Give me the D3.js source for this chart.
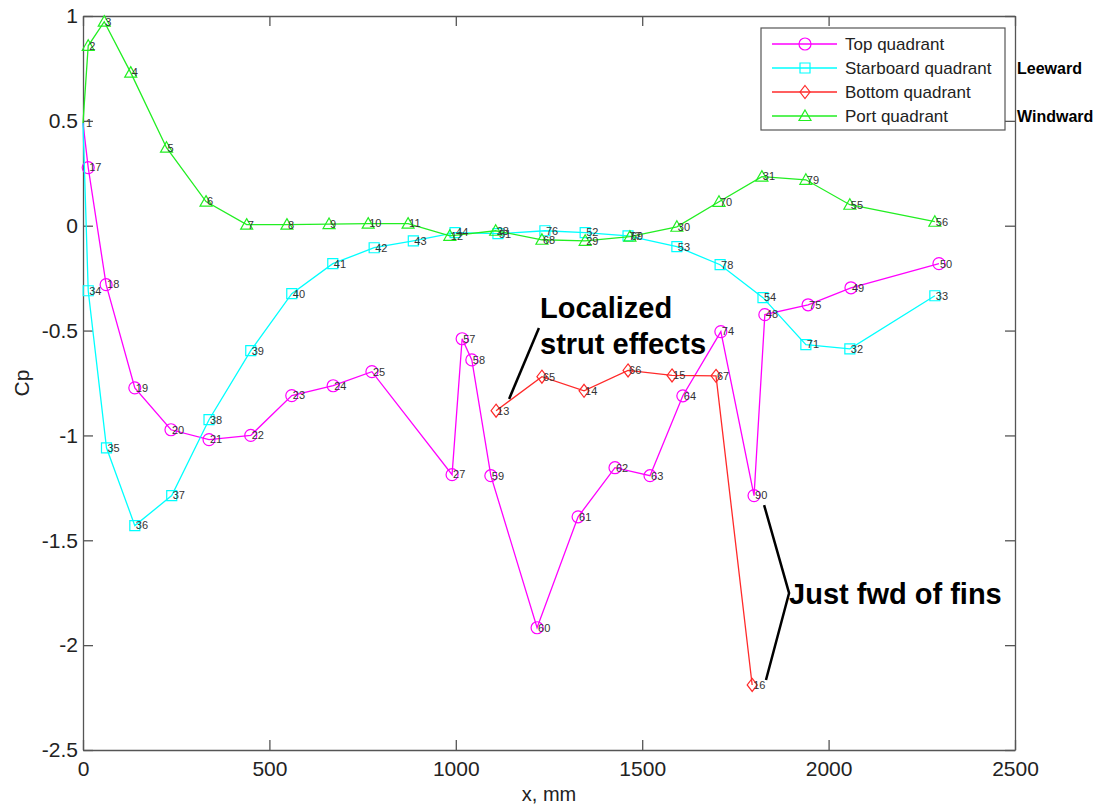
<!DOCTYPE html>
<meta charset="utf-8">
<style>
  body { margin: 0; background: #fff; }
  svg { font-family: "Liberation Sans", Arial, sans-serif; }
  .axis path, .axis line { stroke: #555; stroke-width: 1.3; }
  .axis text { font-size: 21px; fill: #222; }
</style>
<svg width="1103" height="810"></svg>
<script src="https://cdn.jsdelivr.net/npm/d3@7/dist/d3.min.js"></script>
<script>

// tap numbers, x positions (mm) and Cp per quadrant
var topId = ["1","17","18","19","20","21","22","23","24","25","27","57","58","59","60","61","62","63","64","74","90","48","75","49","50"];
var topX  = [0, 14, 62, 139, 236, 338, 450, 560, 671, 775, 990, 1017, 1043, 1094, 1218, 1328, 1427, 1521, 1609, 1711, 1800, 1829, 1945, 2060, 2296];
var topCp = [0.49, 0.277, -0.281, -0.773, -0.973, -1.02, -1.0, -0.81, -0.763, -0.696, -1.187, -0.539, -0.64, -1.192, -1.917, -1.388, -1.154, -1.192, -0.811, -0.505, -1.287, -0.424, -0.377, -0.296, -0.181];

var stbId = ["1","34","35","36","37","38","39","40","41","42","43","44","51","76","52","77","53","78","54","71","32","33"];
var stbX  = [0, 14, 63, 139, 238, 338, 450, 560, 670, 781, 886, 998, 1113, 1239, 1347, 1462, 1593, 1709, 1824, 1939, 2057, 2285];
var stbCp = [0.49, -0.31, -1.059, -1.43, -1.287, -0.925, -0.596, -0.324, -0.181, -0.105, -0.072, -0.033, -0.038, -0.024, -0.033, -0.048, -0.1, -0.186, -0.343, -0.567, -0.587, -0.334];

var botId = ["13","65","14","66","15","67","16"];
var botX  = [1108, 1231, 1344, 1462, 1580, 1698, 1795];
var botCp = [-0.882, -0.72, -0.787, -0.69, -0.714, -0.716, -2.19];

var portId = ["1","2","3","4","5","6","7","8","9","10","11","12","28","68","29","69","30","70","31","79","55","56"];
var portX  = [0, 14, 57, 128, 224, 330, 439, 547, 660, 765, 872, 984, 1107, 1231, 1347, 1467, 1593, 1706, 1821, 1939, 2057, 2285];
var portCp = [0.49, 0.858, 0.973, 0.73, 0.372, 0.115, 0.005, 0.005, 0.008, 0.01, 0.01, -0.048, -0.024, -0.067, -0.072, -0.052, -0.005, 0.114, 0.234, 0.219, 0.1, 0.019];

var seriesNames = ["Top quadrant", "Starboard quadrant", "Bottom quadrant", "Port quadrant"];
var xTicks = [0, 500, 1000, 1500, 2000, 2500];
var yTicks = [1, 0.5, 0, -0.5, -1, -1.5, -2, -2.5];

var series = [
  {name: seriesNames[0], color: "#ff00ff", shape: "circle",   ids: topId,  xs: topX,  ys: topCp},
  {name: seriesNames[1], color: "#00ffff", shape: "square",   ids: stbId,  xs: stbX,  ys: stbCp},
  {name: seriesNames[2], color: "#ff2a2a", shape: "diamond",  ids: botId,  xs: botX,  ys: botCp},
  {name: seriesNames[3], color: "#22ee22", shape: "triangle", ids: portId, xs: portX, ys: portCp}
];
series.forEach(function(s) {
  s.points = s.xs.map(function(x, i) { return {x: x, y: s.ys[i], id: s.ids[i]}; });
});

var svg = d3.select("svg");
var plotL = 83, plotR = 1015, plotT = 16, plotB = 750;

var x = d3.scaleLinear().domain([0, 2500]).range([plotL, plotR]);
var y = d3.scaleLinear().domain([-2.5, 1]).range([plotB, plotT]);

function fmt(d) { return String(d); }

svg.append("g").attr("class", "axis")
    .attr("transform", "translate(0," + plotB + ")")
    .call(d3.axisBottom(x).tickValues(xTicks).tickFormat(fmt).tickSizeInner(-10).tickSizeOuter(0).tickPadding(11));
svg.append("g").attr("class", "axis")
    .attr("transform", "translate(" + plotL + ",0)")
    .call(d3.axisLeft(y).tickValues(yTicks).tickFormat(fmt).tickSizeInner(-10).tickSizeOuter(0).tickPadding(5));
svg.append("g").attr("class", "axis")
    .attr("transform", "translate(0," + plotT + ")")
    .call(d3.axisTop(x).tickValues(xTicks).tickFormat("").tickSizeInner(-10).tickSizeOuter(0));
svg.append("g").attr("class", "axis")
    .attr("transform", "translate(" + plotR + ",0)")
    .call(d3.axisRight(y).tickValues(yTicks).tickFormat("").tickSizeInner(-10).tickSizeOuter(0));

svg.selectAll(".axis text").attr("font-family", "Liberation Sans, Arial, sans-serif");

svg.append("text")
    .attr("x", (plotL + plotR) / 2).attr("y", 801)
    .attr("text-anchor", "middle")
    .attr("font-size", 20).attr("fill", "#222")
    .text("x, mm");

svg.append("text")
    .attr("transform", "translate(29," + ((plotT + plotB) / 2) + ") rotate(-90)")
    .attr("text-anchor", "middle")
    .attr("font-size", 21).attr("fill", "#222")
    .text("Cp");

function markerPath(shape) {
  if (shape === "circle") return "M-6,0a6,6 0 1,0 12,0a6,6 0 1,0 -12,0Z";
  if (shape === "square") return "M-5,-5H5V5H-5Z";
  if (shape === "diamond") return "M0,-6.5L5,0L0,6.5L-5,0Z";
  return "M0,-6L6,4.5H-6Z";
}

var line = d3.line().x(function(d) { return x(d.x); }).y(function(d) { return y(d.y); });

series.forEach(function(s) {
  var g = svg.append("g");
  g.append("path")
      .attr("d", line(s.points))
      .attr("fill", "none")
      .attr("stroke", s.color)
      .attr("stroke-width", 1.3);
  g.selectAll("path.mk")
    .data(s.points.filter(function(d) { return d.x > 0; }))
    .enter().append("path")
      .attr("class", "mk")
      .attr("transform", function(d) { return "translate(" + x(d.x) + "," + y(d.y) + ")"; })
      .attr("d", markerPath(s.shape))
      .attr("fill", "none")
      .attr("stroke", s.color)
      .attr("stroke-width", 1.2);
});

// tap number labels
series.forEach(function(s, si) {
  svg.append("g").selectAll("text")
    .data(s.points.filter(function(d) { return d.x > 0 || si === 0; }))
    .enter().append("text")
      .attr("x", function(d) { return x(d.x) + (d.x > 0 ? 1 : 3); })
      .attr("y", function(d) { return y(d.y); })
      .attr("dy", "0.35em")
      .attr("font-size", 11)
      .attr("fill", "#333")
      .text(function(d) { return d.id; });
});

// annotations
var ann = svg.append("g").attr("font-weight", "bold").attr("fill", "#000");
ann.append("line")
    .attr("x1", x(1223)).attr("y1", y(-0.488))
    .attr("x2", x(1143)).attr("y2", y(-0.826))
    .attr("stroke", "#000").attr("stroke-width", 2.5);
ann.append("text").attr("x", x(1226)).attr("y", y(-0.44)).attr("font-size", 29).text("Localized");
ann.append("text").attr("x", x(1226)).attr("y", y(-0.612)).attr("font-size", 29).text("strut effects");

ann.append("path")
    .attr("d", "M" + x(1827) + "," + y(-1.332) + "L" + x(1894) + "," + y(-1.752) + "L" + x(1832) + "," + y(-2.166))
    .attr("fill", "none").attr("stroke", "#000").attr("stroke-width", 2.5);
ann.append("text").attr("x", x(1894)).attr("y", y(-1.804)).attr("font-size", 29).text("Just fwd of fins");

// legend
var lg = svg.append("g").attr("transform", "translate(761,28)");
lg.append("rect").attr("width", 244).attr("height", 102)
    .attr("fill", "#fff").attr("stroke", "#555").attr("stroke-width", 1.2);
series.forEach(function(s, i) {
  var ly = 16 + i * 24;
  lg.append("line").attr("x1", 11).attr("x2", 76).attr("y1", ly).attr("y2", ly)
      .attr("stroke", s.color).attr("stroke-width", 1.3);
  lg.append("path").attr("transform", "translate(44," + ly + ")")
      .attr("d", markerPath(s.shape)).attr("fill", "none").attr("stroke", s.color).attr("stroke-width", 1.2);
  lg.append("text").attr("x", 84).attr("y", ly).attr("dy", "0.36em")
      .attr("font-size", 17).attr("fill", "#222").text(s.name);
});

svg.append("text").attr("x", 1017).attr("y", 74).attr("font-size", 16).attr("font-weight", "bold").text("Leeward");
svg.append("text").attr("x", 1017).attr("y", 122).attr("font-size", 16).attr("font-weight", "bold").text("Windward");

</script>
